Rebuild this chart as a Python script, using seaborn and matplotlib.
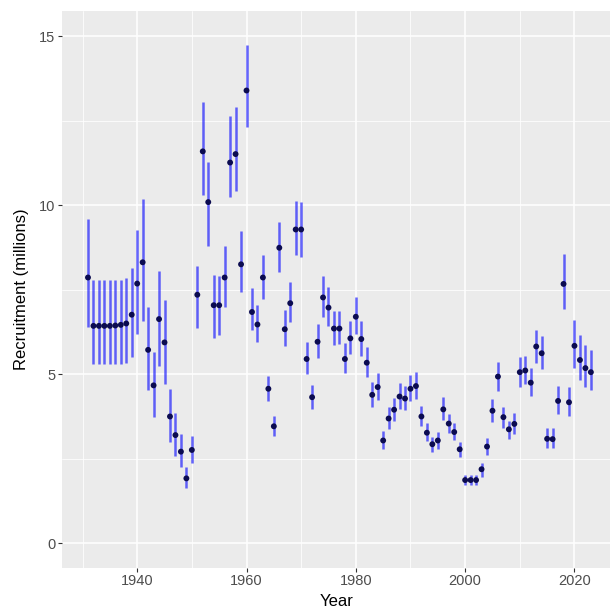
import matplotlib
matplotlib.use("Agg")
import matplotlib.pyplot as plt
import seaborn as sns
import numpy as np
import pandas as pd
from matplotlib.ticker import MultipleLocator

years = list(range(1931, 2024))
recruitment = [
    7.86, 6.43, 6.43, 6.43, 6.43, 6.44, 6.46, 6.50, 6.76, 7.68,
    8.31, 5.72, 4.67, 6.63, 5.94, 3.75, 3.20, 2.71, 1.92, 2.76,
    7.35, 11.59, 10.09, 7.04, 7.04, 7.86, 11.26, 11.51, 8.25, 13.39,
    6.84, 6.47, 7.86, 4.57, 3.46, 8.74, 6.33, 7.10, 9.28, 9.28,
    5.45, 4.32, 5.96, 7.27, 6.97, 6.35, 6.35, 5.45, 6.06, 6.70,
    6.04, 5.34, 4.39, 4.62, 3.04, 3.69, 3.95, 4.34, 4.28, 4.57,
    4.65, 3.75, 3.27, 2.93, 3.04, 3.96, 3.54, 3.29, 2.78, 1.87,
    1.87, 1.87, 2.19, 2.86, 3.92, 4.93, 3.73, 3.37, 3.53, 5.06,
    5.11, 4.75, 5.82, 5.62, 3.09, 3.08, 4.21, 7.67, 4.17, 5.84,
    5.42, 5.18, 5.06,
]
lower = [
    6.39, 5.30, 5.30, 5.30, 5.30, 5.30, 5.31, 5.34, 5.51, 6.19,
    6.56, 4.54, 3.73, 5.25, 4.70, 3.00, 2.59, 2.25, 1.63, 2.37,
    6.36, 10.30, 8.78, 6.06, 6.16, 6.98, 10.25, 10.42, 7.44, 12.31,
    6.31, 5.95, 7.22, 4.21, 3.18, 8.02, 5.82, 6.53, 8.53, 8.48,
    5.01, 3.96, 5.47, 6.70, 6.43, 5.85, 5.90, 5.03, 5.60, 6.19,
    5.55, 4.93, 4.04, 4.24, 2.78, 3.38, 3.63, 3.98, 3.94, 4.22,
    4.28, 3.47, 3.03, 2.71, 2.78, 3.65, 3.25, 3.04, 2.54, 1.72,
    1.72, 1.72, 1.97, 2.61, 3.60, 4.51, 3.40, 3.09, 3.23, 4.63,
    4.70, 4.37, 5.34, 5.16, 2.81, 2.81, 3.83, 6.92, 3.77, 5.18,
    4.83, 4.63, 4.54,
]
upper = [
    9.59, 7.79, 7.79, 7.79, 7.79, 7.79, 7.80, 7.86, 8.15, 9.25,
    10.19, 6.98, 5.67, 8.04, 7.20, 4.55, 3.85, 3.22, 2.27, 3.17,
    8.21, 13.05, 11.29, 7.92, 7.89, 8.80, 12.65, 12.90, 9.23, 14.74,
    7.54, 7.05, 8.53, 4.95, 3.75, 9.50, 6.90, 7.74, 10.11, 10.09,
    5.94, 4.68, 6.49, 7.89, 7.59, 6.88, 6.88, 5.92, 6.58, 7.28,
    6.58, 5.80, 4.76, 5.05, 3.33, 4.02, 4.29, 4.73, 4.65, 4.98,
    5.06, 4.06, 3.55, 3.15, 3.30, 4.32, 3.83, 3.55, 3.01, 2.02,
    2.02, 2.02, 2.37, 3.11, 4.27, 5.37, 4.02, 3.63, 3.85, 5.50,
    5.54, 5.18, 6.31, 6.14, 3.40, 3.40, 4.65, 8.55, 4.62, 6.61,
    6.16, 5.87, 5.72,
]

df = pd.DataFrame({"Year": years, "Recruitment": recruitment,
                   "lower": lower, "upper": upper})

sns.set_theme(style="darkgrid", rc={
    "axes.facecolor": "#EBEBEB",
    "grid.color": "white",
})
plt.rcParams["font.family"] = ["Liberation Sans", "DejaVu Sans"]

fig = plt.figure(figsize=(6.10, 6.11), dpi=100)
ax = fig.add_axes([62.3 / 610, (611 - 567.5) / 611, 1 - 62.3 / 610, (567.5 - 10.7) / 611])

ax.vlines(df["Year"], df["lower"], df["upper"], color="#0000FF", alpha=0.6,
          linewidth=1.8, zorder=2)
sns.scatterplot(data=df, x="Year", y="Recruitment", ax=ax, color="#0b0b50",
                s=18, edgecolor="none", zorder=3, legend=False)

ax.set_xlim(1926.3, 2026.5)
ax.set_ylim(-0.716, 15.75)
ax.xaxis.set_major_locator(MultipleLocator(20))
ax.xaxis.set_minor_locator(MultipleLocator(10))
ax.yaxis.set_major_locator(MultipleLocator(5))
ax.yaxis.set_minor_locator(MultipleLocator(2.5))
ax.grid(which="major", color="white", linewidth=1.1)
ax.grid(which="minor", color="white", linewidth=0.55)
for s in ax.spines.values():
    s.set_visible(False)

ax.tick_params(axis="both", which="major", length=3, width=0.8, color="#333333",
               labelsize=10.5, labelcolor="#4D4D4D", pad=2, bottom=True, left=True)
ax.tick_params(axis="both", which="minor", length=0)

ax.set_xlabel("Year", fontsize=12, color="black", labelpad=4)
ax.set_ylabel("Recruitment (millions)", fontsize=12, color="black", labelpad=7)

fig.savefig("out.png", dpi=100)
